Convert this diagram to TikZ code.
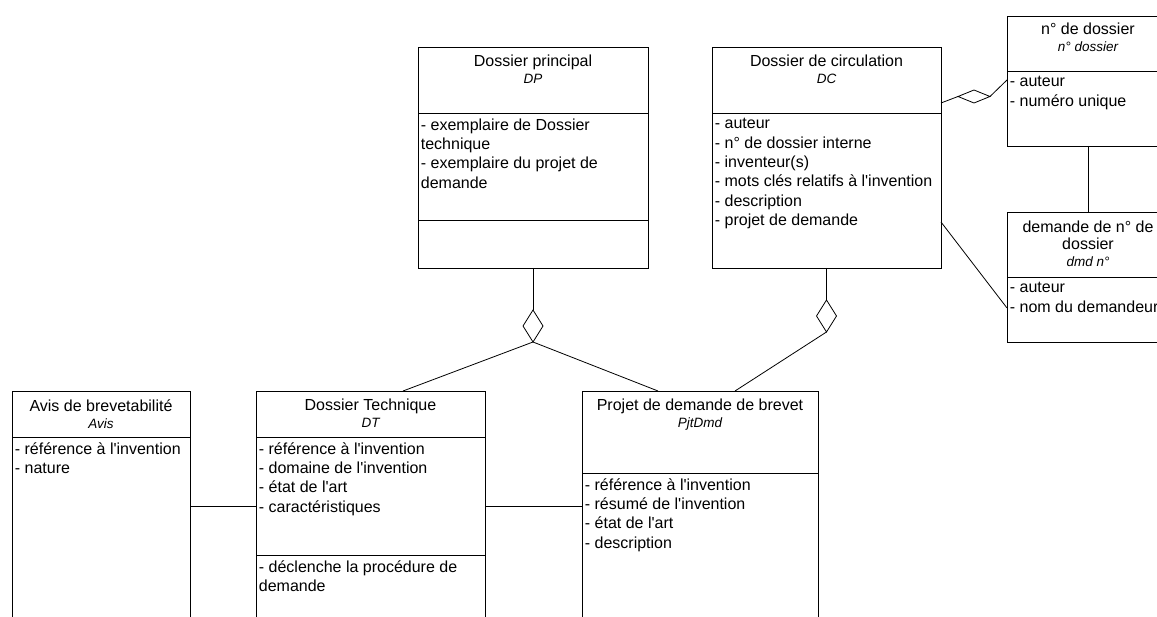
\documentclass[tikz,border=0pt]{standalone}
\usepackage{fontspec}
\setmainfont{Liberation Sans}
\usetikzlibrary{positioning, shapes.geometric}
\newcommand{\clsabbr}[1]{{\fontsize{13.5}{17}\selectfont\itshape #1}}
\newcommand{\ap}{\textquotesingle}

\begin{document}
\begin{tikzpicture}[
    x=1pt, y=-1pt,
    line width=0.8pt,
    box/.style={rectangle, draw=black, inner sep=0pt, outer sep=0pt},
    clsname/.style={align=center, inner xsep=0pt, inner ysep=8pt, font=\fontsize{16}{17}\selectfont, execute at begin node=\strut},
    clslist/.style={align=left, inner xsep=2.5pt, inner ysep=5.2pt, font=\fontsize{16}{19.3}\selectfont, execute at begin node=\strut},
    agg/.style={diamond, draw=black, fill=white, inner sep=0pt, outer sep=0pt}
]
\useasboundingbox (0,0) rectangle (1157,617);
\clip (0,0) rectangle (1157,617);

\node[box, anchor=north west, minimum width=230pt, minimum height=66pt] (dp) at (418,47) {};
\node[box, below=0pt of dp, minimum width=230pt, minimum height=107pt] (dp-attr) {};
\node[box, below=0pt of dp-attr, minimum width=230pt, minimum height=48pt] (dp-ops) {};
\node[clsname, below=0pt of dp.north] (dp-name) {Dossier principal\\\clsabbr{DP}};
\node[clslist, below right=0pt of dp-attr.north west] (dp-list) {- exemplaire de Dossier\\technique\\- exemplaire du projet de\\demande};

\node[box, anchor=north west, minimum width=229pt, minimum height=66pt] (dc) at (712,47) {};
\node[box, below=0pt of dc, minimum width=229pt, minimum height=155pt] (dc-attr) {};
\node[clsname, below=0pt of dc.north] (dc-name) {Dossier de circulation\\\clsabbr{DC}};
\node[clslist, below right=0pt of dc-attr.north west] (dc-list) {- auteur\\- n° de dossier interne\\- inventeur(s)\\- mots clés relatifs à l\ap invention\\- description\\- projet de demande};

\node[box, anchor=north west, minimum width=162pt, minimum height=55pt] (nd) at (1007,16) {};
\node[box, below=0pt of nd, minimum width=162pt, minimum height=75pt] (nd-attr) {};
\node[clsname, below=0pt of nd.north, inner ysep=7pt] (nd-name) {n° de dossier\\\clsabbr{n° dossier}};
\node[clslist, below right=0pt of nd-attr.north west] (nd-list) {- auteur\\- numéro unique};

\node[box, anchor=north west, minimum width=162pt, minimum height=65pt] (dmd) at (1007,212) {};
\node[box, below=0pt of dmd, minimum width=162pt, minimum height=65pt] (dmd-attr) {};
\node[clsname, below=0pt of dmd.north, inner ysep=9pt] (dmd-name) {demande de n° de\\dossier\\\clsabbr{dmd n°}};
\node[clslist, below right=0pt of dmd-attr.north west] (dmd-list) {- auteur\\- nom du demandeur};

\node[box, anchor=north west, minimum width=178pt, minimum height=46pt] (avis) at (12,391) {};
\node[box, below=0pt of avis, minimum width=178pt, minimum height=240pt] (avis-attr) {};
\node[clsname, below=0pt of avis.north] (avis-name) {Avis de brevetabilité\\\clsabbr{Avis}};
\node[clslist, below right=0pt of avis-attr.north west] (avis-list) {- référence à l\ap invention\\- nature};

\node[box, anchor=north west, minimum width=229pt, minimum height=46pt] (dt) at (256,391) {};
\node[box, below=0pt of dt, minimum width=229pt, minimum height=118pt] (dt-attr) {};
\node[box, below=0pt of dt-attr, minimum width=229pt, minimum height=120pt] (dt-ops) {};
\node[clsname, below=0pt of dt.north] (dt-name) {Dossier Technique\\\clsabbr{DT}};
\node[clslist, below right=0pt of dt-attr.north west] (dt-list) {- référence à l\ap invention\\- domaine de l\ap invention\\- état de l\ap art\\- caractéristiques};
\node[clslist, below right=0pt of dt-ops.north west] (dt-oplist) {- déclenche la procédure de\\demande};

\node[box, anchor=north west, minimum width=236pt, minimum height=82pt] (pjt) at (582,391) {};
\node[box, below=0pt of pjt, minimum width=236pt, minimum height=200pt] (pjt-attr) {};
\node[clsname, below=0pt of pjt.north] (pjt-name) {Projet de demande de brevet\\\clsabbr{PjtDmd}};
\node[clslist, below right=0pt of pjt-attr.north west] (pjt-list) {- référence à l\ap invention\\- résumé de l\ap invention\\- état de l\ap art\\- description};

\node[agg, minimum width=20pt, minimum height=32pt] (dp-agg) at (533,326) {};
\node[agg, minimum width=20pt, minimum height=32pt] (dc-agg) at (826.5,316) {};
\node[agg, minimum width=32pt, minimum height=13pt] (nd-agg) at (974,96.5) {};

\draw (dp-ops) -- (dp-agg);
\draw (dp-agg.south) -- ([xshift=32.5pt]dt.north);
\draw (dp-agg.south) -- ([xshift=-42pt]pjt.north);
\draw (dc-attr) -- (dc-agg);
\draw (dc-agg.south) -- ([xshift=35pt]pjt.north);
\draw ([yshift=10pt]dc.south east) -- (nd-agg.west);
\draw (nd-agg.east) -- ([yshift=-9pt]nd-attr.north west);
\draw (nd-attr) -- (dmd);
\draw ([yshift=-109pt]dc-attr.north east) -- ([yshift=-31pt]dmd-attr.north west);
\draw ([yshift=-69pt]avis-attr.north east) -- ([yshift=-69pt]dt-attr.north west);
\draw ([yshift=-69pt]dt-attr.north east) -- ([yshift=-33pt]pjt-attr.north west);
\end{tikzpicture}
\end{document}
